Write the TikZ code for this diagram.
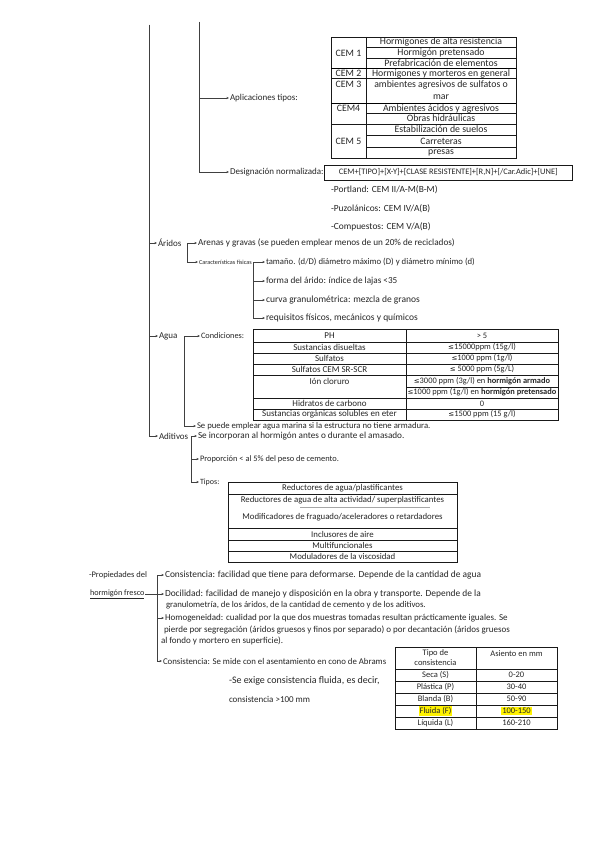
\documentclass[tikz,border=0pt]{standalone}
\usepackage{fontspec}
\setmainfont{Carlito}
\newfontfamily\symf{DejaVu Sans}
\usetikzlibrary{arrows.meta}
\newcommand\myfs{\fontsize{9}{10}\selectfont}
\newcommand\mytb{\fontsize{9}{10}\selectfont}
\newcommand\mysm{\fontsize{6.2}{7}\selectfont}
\newcommand\myle{{\symf\fontsize{7}{8}\selectfont ≤}}
\begin{document}
\begin{tikzpicture}[x=1pt,y=-1pt,
 txt/.style={anchor=west,inner xsep=0.8pt,inner ysep=0pt,font=\myfs,text=black!85},
 cel/.style={inner sep=0pt,font=\mytb,text=black!85},
 arr/.style={draw=black!75,line width=0.5pt,-{Stealth[length=2.6pt,width=2.2pt]}},
 ln/.style={draw=black!75,line width=0.5pt},
 tl/.style={draw=black!90,line width=0.6pt},
 tk/.style={draw=black,line width=1pt},
]
\fill[white] (0,0) rectangle (599,848);
\path[use as bounding box] (0,0) rectangle (599,848);

% ---------- top part
\coordinate (m0) at (149,25);
\coordinate (v0) at (199,22);
\node[txt] (apl) at (229,98) {Aplicaciones tipos:};
\node[txt] (des) at (229,172) {Designación normalizada:};
\draw[arr] (v0) |- (apl.west);
\draw[arr] (v0) |- (des.west);

% CEM table
\begin{scope}[cel/.append style={font=\fontsize{9.8}{11}\selectfont}]
\draw[tl] (331,37) rectangle (516,158);
\draw[tl] (366,37) -- (366,158);
\foreach \y in {47,58,113,135,147} \draw[tl] (366,\y) -- (516,\y);
\foreach \y in {69,104} \draw[tk] (331,\y) -- (516,\y);
\foreach \y in {78,124} \draw[tl] (331,\y) -- (516,\y);
\node[cel] (k1) at (348.5,53) {CEM 1};
\node[cel] (k2) at (348.5,73.5) {CEM 2};
\node[cel] (k3) at (348.5,84) {CEM 3};
\node[cel] (k4) at (348.5,108.5) {CEM4};
\node[cel] (k5) at (348.5,141) {CEM 5};
\node[cel] (r1) at (441,42) {Hormigones de alta resistencia};
\node[cel] (r2) at (441,52.5) {Hormigón pretensado};
\node[cel] (r3) at (441,63.5) {Prefabricación de elementos};
\node[cel] (r4) at (441,73.5) {Hormigones y morteros en general};
\node[cel] (r5) at (441,85) {ambientes agresivos de sulfatos o};
\node[cel] (r6) at (441,97) {mar};
\node[cel] (r7) at (441,108.5) {Ambientes ácidos y agresivos};
\node[cel] (r8) at (441,118.5) {Obras hidráulicas};
\node[cel] (r9) at (441,129.5) {Estabilización de suelos};
\node[cel] (r10) at (441,141) {Carreteras};
\node[cel] (r11) at (441,152.5) {presas};
\end{scope}

% designation
\node[draw=black!90,line width=0.6pt,anchor=west,minimum width=248pt,minimum height=15pt,inner xsep=6pt,font=\fontsize{8.4}{10}\selectfont,text=black!85] (dbox) at (324,172.5) {CEM+[TIPO]+[X-Y]+[CLASE RESISTENTE]+[R,N]+[/Car.Adic]+[UNE]};
\node[txt,font=\fontsize{9.4}{11}\selectfont] (port) at (330,190) {-Portland: CEM II/A-M(B-M)};
\node[txt,font=\fontsize{9.4}{11}\selectfont] (puz) at (330,209) {-Puzolánicos: CEM IV/A(B)};
\node[txt,font=\fontsize{9.4}{11}\selectfont] (comp) at (330,227) {-Compuestos: CEM V/A(B)};

% ---------- Áridos
\node[txt] (ari) at (157,243) {Áridos};
\draw[arr] (m0) |- (ari.west);
\coordinate (a0) at (187,243);
\node[txt,font=\fontsize{9.2}{10}\selectfont] (are) at (197,243) {Arenas y gravas (se pueden emplear menos de un 20\% de reciclados)};
\node[txt,font=\mysm] (car) at (198,262) {Características físicas};
\draw[arr] (a0) -- (are.west);
\draw[arr] (a0) |- (car.west);
\coordinate (c0) at (253,262);
\draw[ln] (car.east) -- (c0);
\node[txt,font=\fontsize{8.7}{10}\selectfont] (tam) at (265,262) {tamaño. (d/D) diámetro máximo (D) y diámetro mínimo (d)};
\node[txt,font=\fontsize{9.2}{10}\selectfont] (form) at (265,281) {forma del árido: índice de lajas <35};
\node[txt,font=\fontsize{9.5}{10}\selectfont] (curv) at (265,300) {curva granulométrica: mezcla de granos};
\node[txt,font=\fontsize{9.5}{10}\selectfont] (reqs) at (265,318) {requisitos físicos, mecánicos y químicos};
\draw[arr] (c0) -- (tam.west);
\draw[arr] (c0) |- (form.west);
\draw[arr] (c0) |- (curv.west);
\draw[arr] (c0) |- (reqs.west);

% ---------- Agua
\node[txt] (agua) at (158,336) {Agua};
\draw[arr] (m0) |- (agua.west);
\coordinate (g0) at (184,336);
\node[txt,font=\fontsize{8.3}{9}\selectfont] (cond) at (200,336) {Condiciones:};
\node[txt,font=\fontsize{8.7}{10}\selectfont] (mar) at (196,426) {Se puede emplear agua marina si la estructura no tiene armadura.};
\draw[arr] (g0) -- (cond.west);
\draw[arr] (g0) |- (mar.west);

\draw[tl] (253,329) rectangle (558,420);
\draw[tl] (406,329) -- (406,420);
\foreach \y in {342,353,364,375,398,409} \draw[tl] (253,\y) -- (558,\y);
\draw[tl] (406,387) -- (558,387);
\node[cel] (w1) at (329.5,335.5) {PH};
\node[cel] (w2) at (329.5,347.5) {Sustancias disueltas};
\node[cel] (w3) at (329.5,358.5) {Sulfatos};
\node[cel] (w4) at (329.5,369.5) {Sulfatos CEM SR-SCR};
\node[cel] (w5) at (329.5,381) {Ión cloruro};
\node[cel] (w6) at (329.5,403.5) {Hidratos de carbono};
\node[cel] (w7) at (329.5,414.5) {Sustancias orgánicas solubles en eter};
\begin{scope}[cel/.append style={font=\fontsize{8.4}{10}\selectfont}]
\node[cel] (u1) at (482,335.5) {> 5};
\node[cel] (u2) at (482,347.5) {\myle15000ppm (15g/l)};
\node[cel] (u3) at (482,358.5) {\myle1000 ppm (1g/l)};
\node[cel] (u4) at (482,369.5) {\myle{} 5000 ppm (5g/L)};
\node[cel] (u5) at (482,381) {\myle3000 ppm (3g/l) en \textbf{hormigón armado}};
\node[cel] (u6) at (482,392.5) {\myle1000 ppm (1g/l) en \textbf{hormigón pretensado}};
\node[cel] (u7) at (482,403.5) {0};
\node[cel] (u8) at (482,414.5) {\myle1500 ppm (15 g/l)};
\end{scope}

% ---------- Aditivos
\node[txt] (adi) at (158,436) {Aditivos};
\draw[arr] (m0) |- (adi.west);
\coordinate (d0) at (191,436);
\node[txt,font=\fontsize{9.2}{11}\selectfont] (inc) at (197,436) {Se incorporan al hormigón antes o durante el amasado.};
\node[txt,font=\fontsize{8.4}{10}\selectfont] (prop) at (199,459) {Proporción < al 5\% del peso de cemento.};
\node[txt,font=\fontsize{8}{9}\selectfont] (tip) at (199,482) {Tipos:};
\draw[arr] (d0) -- (inc.west);
\draw[arr] (d0) |- (prop.west);
\draw[arr] (d0) |- (tip.west);

\draw[tl] (228,482) rectangle (457,562);
\foreach \y in {494,528,540,551} \draw[tl] (228,\y) -- (457,\y);
\draw[draw=black!35,line width=0.5pt] (300,507) -- (430,507);
\begin{scope}[cel/.append style={font=\fontsize{8.8}{10}\selectfont}]
\node[cel] (p1) at (342.5,488) {Reductores de agua/plastificantes};
\node[cel] (p2) at (342.5,500) {Reductores de agua de alta actividad/ superplastificantes};
\node[cel] (p3) at (342.5,517) {Modificadores de fraguado/aceleradores o retardadores};
\node[cel] (p4) at (342.5,534) {Inclusores de aire};
\node[cel] (p5) at (342.5,545.5) {Multifuncionales};
\node[cel] (p6) at (342.5,556.5) {Moduladores de la viscosidad};
\end{scope}

% ---------- Propiedades del hormigón fresco
\node[txt,font=\fontsize{8.5}{10}\selectfont] (prp) at (88,575) {-Propiedades del};
\node[txt,font=\fontsize{8.2}{10}\selectfont] (fre) at (89,594) {\underline{hormigón fresco}};
\coordinate (q0) at (157,575);
\node[txt,font=\fontsize{9.4}{11}\selectfont] (cons) at (164,575) {Consistencia: facilidad que tiene para deformarse. Depende de la cantidad de agua};
\node[txt,font=\fontsize{9.4}{11}\selectfont] (doc) at (164,594) {Docilidad: facilidad de manejo y disposición en la obra y transporte. Depende de la};
\node[txt,font=\fontsize{8.8}{10}\selectfont] (doc2) at (165,605.5) {granulometría, de los áridos, de la cantidad de cemento y de los aditivos.};
\node[txt] (hom) at (164,618) {Homogeneidad: cualidad por la que dos muestras tomadas resultan prácticamente iguales. Se};
\node[txt,font=\fontsize{9}{10}\selectfont] (hom2) at (163,629.5) {pierde por segregación (áridos gruesos y finos por separado) o por decantación (áridos gruesos};
\node[txt] (hom3) at (160,641) {al fondo y mortero en superficie).};
\node[txt,font=\fontsize{8.8}{10}\selectfont] (consb) at (162,661) {Consistencia: Se mide con el asentamiento en cono de Abrams};
\draw[arr] (q0) -- (cons.west);
\draw[arr] (fre.east) -- (doc.west);
\draw[arr] (q0) |- (hom.west);
\draw[arr] (q0) |- (consb.west);
\node[txt,font=\fontsize{10}{11}\selectfont] (exi) at (228,681) {-Se exige consistencia fluida, es decir,};
\node[txt] (exi2) at (228,699) {consistencia >100 mm};

% consistency table
\begin{scope}[cel/.append style={font=\fontsize{8.5}{10}\selectfont}]
\draw[tl] (395,647) rectangle (557,729);
\draw[tl] (476,647) -- (476,729);
\foreach \y in {669,681,693,705,717} \draw[tl] (395,\y) -- (557,\y);
\node[cel] (h1) at (435.5,653.5) {Tipo de};
\node[cel] (h2) at (435.5,663) {consistencia};
\node[cel] (h3) at (516.5,653.5) {Asiento en mm};
\node[cel] (s1) at (435.5,675) {Seca (S)};
\node[cel] (s2) at (435.5,687) {Plástica (P)};
\node[cel] (s3) at (435.5,699) {Blanda (B)};
\node[cel,fill=yellow,inner xsep=1pt,inner ysep=1pt] (s4) at (435.5,711) {Fluida (F)};
\node[cel] (s5) at (435.5,723) {Líquida (L)};
\node[cel] (v1) at (516.5,675) {0-20};
\node[cel] (v2) at (516.5,687) {30-40};
\node[cel] (v3) at (516.5,699) {50-90};
\node[cel,fill=yellow,inner xsep=1pt,inner ysep=1pt] (v4) at (516.5,711) {100-150};
\node[cel] (v5) at (516.5,723) {160-210};
\end{scope}
\end{tikzpicture}
\end{document}
